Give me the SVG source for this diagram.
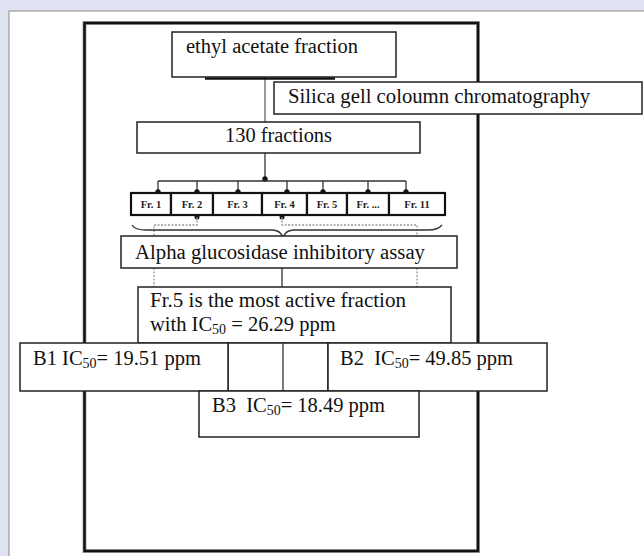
<svg xmlns="http://www.w3.org/2000/svg" width="644" height="556" viewBox="0 0 644 556">
<style>
.box{fill:#fff;stroke:#222;stroke-width:1.5}
.cell{fill:#fff;stroke:#111;stroke-width:2.2}
.t{font-family:"Liberation Serif","Times New Roman",serif;font-size:20px;fill:#111}
.b{font-size:20.5px}
.s{font-size:14px}
.f{font-family:"Liberation Serif","Times New Roman",serif;font-size:10.5px;font-weight:bold;fill:#222;text-anchor:middle}
.ln{fill:none;stroke:#333;stroke-width:1.3}
.gl{fill:none;stroke:#777;stroke-width:1.5}
.ds{fill:none;stroke:#999;stroke-width:1.3;stroke-dasharray:2 1.5}
</style>
<defs>
<marker id="dot" viewBox="0 0 6 6" refX="3" refY="3" markerWidth="5" markerHeight="5"><circle cx="3" cy="3" r="2.5" fill="#111"/></marker>
</defs>
<rect x="0" y="0" width="644" height="556" fill="#dfe3f1"/>
<rect x="9" y="11" width="700" height="600" fill="#fff" stroke="#8a8a8a" stroke-width="1"/>
<g id="frame"><rect x="84.5" y="23" width="393.5" height="528" fill="none" stroke="#aaa" stroke-width="4"/><rect x="84.5" y="23" width="393.5" height="528" fill="none" stroke="#111" stroke-width="2.5"/></g>
<g id="connectors">
<line x1="265" y1="77" x2="265" y2="122" class="gl"/>
<line x1="205" y1="78.5" x2="335" y2="78.5" stroke="#111" stroke-width="2.5"/>
<line x1="265" y1="153" x2="265" y2="179" class="ln" marker-end="url(#dot)"/>
<line x1="158" y1="181" x2="406" y2="181" class="ln"/>
<line x1="158" y1="181" x2="158" y2="192" class="ln" marker-end="url(#dot)"/>
<line x1="197" y1="181" x2="197" y2="192" class="ln" marker-end="url(#dot)"/>
<line x1="238" y1="181" x2="238" y2="192" class="ln" marker-end="url(#dot)"/>
<line x1="287" y1="181" x2="287" y2="192" class="ln" marker-end="url(#dot)"/>
<line x1="323" y1="181" x2="323" y2="192" class="ln" marker-end="url(#dot)"/>
<line x1="368" y1="181" x2="368" y2="192" class="ln" marker-end="url(#dot)"/>
<line x1="406" y1="181" x2="406" y2="192" class="ln" marker-end="url(#dot)"/>
<circle cx="197" cy="217" r="2.5" fill="#111"/>
<circle cx="282" cy="217" r="2.5" fill="#111"/>
<path d="M197 217V225H154V236" class="ds"/>
<path d="M282 217V225H417V236" class="ds"/>
<path d="M132 225Q135 230 146 230H272Q280 230 283 237Q286 230 294 230H428Q438 230 442 225" fill="none" stroke="#333" stroke-width="1.3"/>
<path d="M154 268V287M417 268V287" class="ds"/>
<line x1="282" y1="268" x2="282" y2="287" class="ln"/>
</g>
<g id="n_ethyl"><rect x="172" y="32" width="224" height="45" class="box"/><text x="186" y="53" class="t" textLength="172" lengthAdjust="spacingAndGlyphs">ethyl acetate fraction</text></g>
<g id="n_silica"><rect x="274" y="82" width="368" height="32" class="box"/><text x="288" y="103" class="t" textLength="302" lengthAdjust="spacingAndGlyphs">Silica gell coloumn chromatography</text></g>
<g id="n_130"><rect x="137" y="122" width="283" height="31" class="box"/><text x="225" y="142" class="t" textLength="107" lengthAdjust="spacingAndGlyphs">130 fractions</text></g>
<g id="n_fr">
<rect x="131" y="193" width="40" height="22" class="cell"/><text x="151" y="208" class="f">Fr. 1</text>
<rect x="171" y="193" width="42" height="22" class="cell"/><text x="192" y="208" class="f">Fr. 2</text>
<rect x="213" y="193" width="49" height="22" class="cell"/><text x="237.5" y="208" class="f">Fr. 3</text>
<rect x="262" y="193" width="45" height="22" class="cell"/><text x="284.5" y="208" class="f">Fr. 4</text>
<rect x="307" y="193" width="40" height="22" class="cell"/><text x="327" y="208" class="f">Fr. 5</text>
<rect x="347" y="193" width="42" height="22" class="cell"/><text x="368" y="208" class="f">Fr. ...</text>
<rect x="389" y="193" width="56" height="22" class="cell"/><text x="417" y="208" class="f">Fr. 11</text>
</g>
<g id="n_alpha"><rect x="121" y="236" width="336" height="32" class="box"/><text x="135" y="259" class="t" textLength="290" lengthAdjust="spacingAndGlyphs">Alpha glucosidase inhibitory assay</text></g>
<g id="n_fr5"><rect x="138" y="287" width="313" height="56" class="box"/>
<text x="150" y="307" class="t" textLength="256" lengthAdjust="spacingAndGlyphs">Fr.5 is the most active fraction</text>
<text x="150" y="331" class="t b">with IC<tspan class="s" dy="3">50</tspan><tspan dy="-3"> = 26.29 ppm</tspan></text></g>
<g id="n_mid"><rect x="228" y="343" width="100" height="48" class="box"/><line x1="283" y1="343" x2="283" y2="391" class="ln"/></g>
<g id="n_b1"><rect x="20" y="343" width="208" height="48" class="box"/><text x="33" y="365" class="t b">B1 IC<tspan class="s" dy="3">50</tspan><tspan dy="-3">= 19.51 ppm</tspan></text></g>
<g id="n_b2"><rect x="328" y="343" width="219" height="48" class="box"/><text x="340" y="365" class="t b" xml:space="preserve">B2  IC<tspan class="s" dy="3">50</tspan><tspan dy="-3">= 49.85 ppm</tspan></text></g>
<g id="n_b3"><rect x="199" y="391" width="220" height="46" class="box"/><text x="212" y="412" class="t b" xml:space="preserve">B3  IC<tspan class="s" dy="3">50</tspan><tspan dy="-3">= 18.49 ppm</tspan></text></g>
</svg>
